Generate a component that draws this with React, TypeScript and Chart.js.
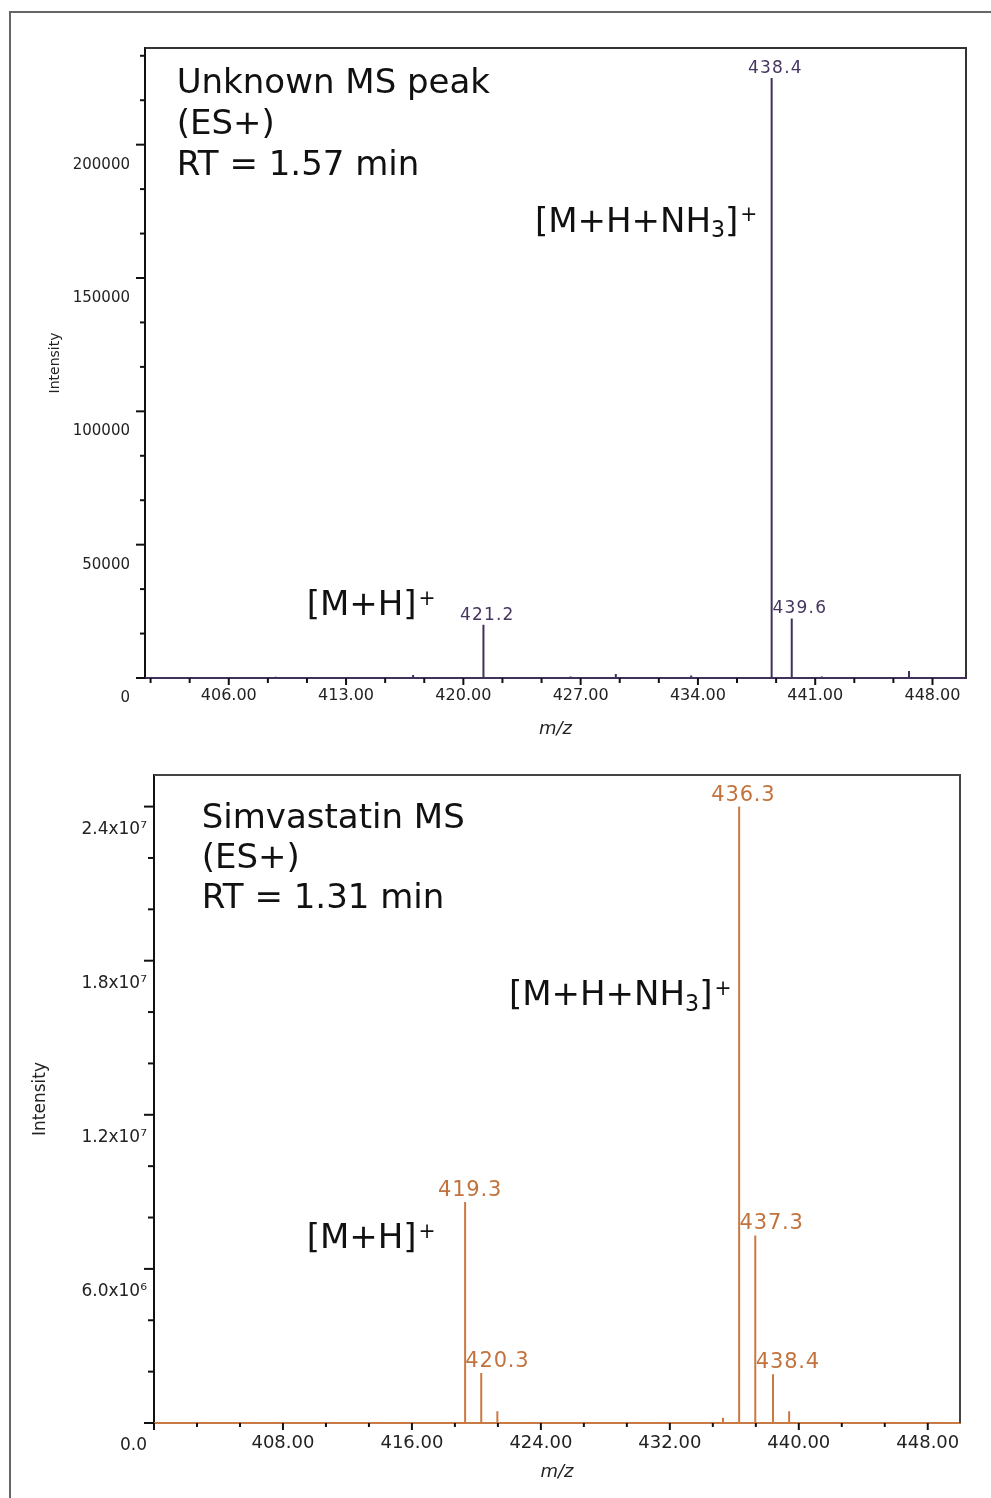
import React, { useEffect, useRef } from 'react';
import { Chart, registerables } from 'chart.js';

Chart.register(...registerables);

const FONT = '"DejaVu Sans", Verdana, sans-serif';

// ---------- Top spectrum: Unknown MS peak ----------
const topMz = [408.8, 417.0, 421.2, 426.4, 429.1, 433.6, 438.4, 439.6, 441.4, 446.6];
const topIntensity = [500, 1100, 20000, 600, 1500, 900, 225000, 22300, 600, 2600];
const topLabelText = ['421.2', '438.4', '439.6'];
const topLabelPeakMz = [421.2, 438.4, 439.6];
const topLabelCenterMz = [421.39, 438.59, 440.05];
const topXTicks = [406, 413, 420, 427, 434, 441, 448];
const topYTicks = [0, 50000, 100000, 150000, 200000];
const topYLabels = ['0', '50000', '100000', '150000', '200000'];
const topTitleLines = ['Unknown MS peak', '(ES+)', 'RT = 1.57 min'];

// ---------- Bottom spectrum: Simvastatin MS ----------
const botMz = [419.3, 420.3, 421.3, 435.3, 436.3, 437.3, 438.4, 439.4];
const botIntensity = [8.6e6, 1.95e6, 4.6e5, 2.0e5, 2.4e7, 7.3e6, 1.9e6, 4.6e5];
const botLabelText = ['419.3', '420.3', '436.3', '437.3', '438.4'];
const botLabelPeakMz = [419.3, 420.3, 436.3, 437.3, 438.4];
const botLabelCenterMz = [419.58, 421.28, 436.54, 438.29, 439.3];
const botXTicks = [408, 416, 424, 432, 440, 448];
const botYTicks = [0, 6e6, 1.2e7, 1.8e7, 2.4e7];
const botYLabels = ['0.0', '6.0x10\u2076', '1.2x10\u2077', '1.8x10\u2077', '2.4x10\u2077'];
const botTitleLines = ['Simvastatin MS', '(ES+)', 'RT = 1.31 min'];

type Seg = { t: string; sub?: boolean; sup?: boolean };
const ionAdduct: Seg[] = [{ t: '[M+H+NH' }, { t: '3', sub: true }, { t: ']' }, { t: '+', sup: true }];
const ionProton: Seg[] = [{ t: '[M+H]' }, { t: '+', sup: true }];

interface Note { segs: Seg[]; mz: number; intensity: number }

interface Spec {
  mz: number[];
  intensity: number[];
  xMin: number;
  xMax: number;
  yMax: number;
  xTicks: number[];
  xMinorStep: number;
  yTicks: number[];
  yLabels: string[];
  yMinorStep: number;
  lineColor: string;
  labelColor: string;
  labelText: string[];
  labelPeakMz: number[];
  labelCenterMz: number[];
  labelFont: number;
  labelSpacing: number;
  titleLines: string[];
  titleMz: number;
  titleIntensity: number;
  titleGap: number;
  notes: Note[];
  padding: { left: number; top: number; right: number; bottom: number };
  yAxisWidth: number;
  xAxisHeight: number;
  yTickFont: number;
  yTickPad: number;
  yLabelOffset: number;
  xTickFont: number;
  xTickPad: number;
  xTitleFont: number;
  xTitlePad: number;
  yTitleFont: number;
  yTitlePad: number;
  yMajorLen: number;
  yMinorLen: number;
  xMajorLen: number;
  xMinorLen: number;
  frameColor: string;
}

const topSpec: Spec = {
  mz: topMz,
  intensity: topIntensity,
  xMin: 401,
  xMax: 450,
  yMax: 236250,
  xTicks: topXTicks,
  xMinorStep: 7 / 3,
  yTicks: topYTicks,
  yLabels: topYLabels,
  yMinorStep: 50000 / 3,
  lineColor: '#40305a',
  labelColor: '#45355f',
  labelText: topLabelText,
  labelPeakMz: topLabelPeakMz,
  labelCenterMz: topLabelCenterMz,
  labelFont: 17,
  labelSpacing: 1.2,
  titleLines: topTitleLines,
  titleMz: 402.89,
  titleIntensity: 219300,
  titleGap: 41,
  notes: [
    { segs: ionAdduct, mz: 424.27, intensity: 167400 },
    { segs: ionProton, mz: 410.65, intensity: 23600 },
  ],
  padding: { left: 0, top: 48, right: 25, bottom: 0 },
  yAxisWidth: 145,
  xAxisHeight: 72,
  yTickFont: 15,
  yTickPad: 15,
  yLabelOffset: 20,
  xTickFont: 16,
  xTickPad: 8,
  xTitleFont: 18,
  xTitlePad: 10,
  yTitleFont: 14,
  yTitlePad: 47,
  yMajorLen: 9,
  yMinorLen: 5,
  xMajorLen: 7,
  xMinorLen: 5,
  frameColor: '#333',
};

const botSpec: Spec = {
  mz: botMz,
  intensity: botIntensity,
  xMin: 400,
  xMax: 450,
  yMax: 2.523e7,
  xTicks: botXTicks,
  xMinorStep: 8 / 3,
  yTicks: botYTicks,
  yLabels: botYLabels,
  yMinorStep: 2e6,
  lineColor: '#c97a42',
  labelColor: '#c2733d',
  labelText: botLabelText,
  labelPeakMz: botLabelPeakMz,
  labelCenterMz: botLabelCenterMz,
  labelFont: 21,
  labelSpacing: 0.8,
  titleLines: botTitleLines,
  titleMz: 402.96,
  titleIntensity: 2.316e7,
  titleGap: 40,
  notes: [
    { segs: ionAdduct, mz: 422.02, intensity: 1.627e7 },
    { segs: ionProton, mz: 409.47, intensity: 6.8e6 },
  ],
  padding: { left: 0, top: 25, right: 31, bottom: 0 },
  yAxisWidth: 154,
  xAxisHeight: 75,
  yTickFont: 17,
  yTickPad: 7,
  yLabelOffset: 23,
  xTickFont: 18,
  xTickPad: 10,
  xTitleFont: 18,
  xTitlePad: 15,
  yTitleFont: 17,
  yTitlePad: 30,
  yMajorLen: 10,
  yMinorLen: 6,
  xMajorLen: 7,
  xMinorLen: 4,
  frameColor: '#444',
};

function drawRich(ctx: CanvasRenderingContext2D, segs: Seg[], x: number, baseline: number, size: number) {
  let cx = x;
  for (const s of segs) {
    let fs = size;
    let dy = 0;
    if (s.sub) { fs = size * 0.65; dy = size * 0.17; }
    if (s.sup) { fs = size * 0.6; dy = -size * 0.3; cx += 2; }
    ctx.font = `${fs}px ${FONT}`;
    ctx.fillText(s.t, cx, baseline + dy);
    cx += ctx.measureText(s.t).width;
  }
}

function makeDecor(s: Spec) {
  return {
    id: 'msDecor',
    afterDraw(chart: any) {
      const ctx: CanvasRenderingContext2D = chart.ctx;
      const xs = chart.scales.x;
      const ys = chart.scales.y;
      const area = chart.chartArea;
      ctx.save();

      // top and right frame of the plot
      ctx.strokeStyle = s.frameColor;
      ctx.lineWidth = 2;
      ctx.beginPath();
      ctx.moveTo(area.left, area.top);
      ctx.lineTo(area.right, area.top);
      ctx.lineTo(area.right, area.bottom);
      ctx.stroke();

      // tick marks
      ctx.strokeStyle = '#111';
      ctx.lineWidth = 2;
      const isMajor = (v: number, arr: number[]) => arr.some((m) => Math.abs(m - v) < 1e-6 * Math.max(1, Math.abs(m)));
      let start = s.xTicks[0];
      while (start - s.xMinorStep >= s.xMin - 1e-9) start -= s.xMinorStep;
      for (let v = start; v <= s.xMax + 1e-9; v += s.xMinorStep) {
        const major = isMajor(v, s.xTicks) || Math.abs(v - s.xMin) < 1e-6;
        const px = xs.getPixelForValue(v);
        ctx.beginPath();
        ctx.moveTo(px, area.bottom);
        ctx.lineTo(px, area.bottom + (major ? s.xMajorLen : s.xMinorLen));
        ctx.stroke();
      }
      for (let v = 0; v <= s.yMax + 1e-9; v += s.yMinorStep) {
        const major = isMajor(v, s.yTicks);
        const py = ys.getPixelForValue(v);
        ctx.beginPath();
        ctx.moveTo(area.left - (major ? s.yMajorLen : s.yMinorLen), py);
        ctx.lineTo(area.left, py);
        ctx.stroke();
      }

      // peak labels
      ctx.fillStyle = s.labelColor;
      ctx.font = `${s.labelFont}px ${FONT}`;
      (ctx as any).letterSpacing = `${s.labelSpacing}px`;
      ctx.textAlign = 'center';
      ctx.textBaseline = 'bottom';
      s.labelText.forEach((txt, i) => {
        const idx = s.mz.indexOf(s.labelPeakMz[i]);
        const h = s.intensity[idx];
        const px = xs.getPixelForValue(s.labelCenterMz[i]) + s.labelSpacing / 2;
        const py = ys.getPixelForValue(h) - 1;
        ctx.fillText(txt, px, py);
      });
      (ctx as any).letterSpacing = '0px';

      // annotations
      ctx.fillStyle = '#111';
      ctx.textAlign = 'left';
      ctx.textBaseline = 'alphabetic';
      ctx.font = `34px ${FONT}`;
      const tx = xs.getPixelForValue(s.titleMz);
      const ty = ys.getPixelForValue(s.titleIntensity);
      s.titleLines.forEach((line, i) => {
        ctx.fillText(line, tx, ty + i * s.titleGap);
      });
      s.notes.forEach((n) => {
        drawRich(ctx, n.segs, xs.getPixelForValue(n.mz), ys.getPixelForValue(n.intensity), 34);
      });
      ctx.restore();
    },
  };
}

function buildConfig(s: Spec): any {
  const points: { x: number; y: number }[] = [{ x: s.xMin, y: 0 }];
  s.mz.forEach((m, i) => {
    points.push({ x: m, y: 0 }, { x: m, y: s.intensity[i] }, { x: m, y: 0 });
  });
  points.push({ x: s.xMax, y: 0 });

  return {
    type: 'line',
    data: {
      datasets: [
        {
          data: points,
          borderColor: s.lineColor,
          borderWidth: 2,
          pointRadius: 0,
          tension: 0,
          fill: false,
        },
      ],
    },
    options: {
      animation: false,
      responsive: true,
      maintainAspectRatio: false,
      events: [],
      layout: { padding: s.padding },
      plugins: { legend: { display: false }, tooltip: { enabled: false } },
      scales: {
        x: {
          type: 'linear',
          min: s.xMin,
          max: s.xMax,
          afterFit: (sc: any) => { sc.height = s.xAxisHeight; },
          afterBuildTicks: (sc: any) => { sc.ticks = s.xTicks.map((v) => ({ value: v })); },
          grid: { display: false, drawTicks: false },
          border: { display: true, color: s.lineColor, width: 2 },
          ticks: {
            autoSkip: false,
            maxRotation: 0,
            minRotation: 0,
            padding: s.xTickPad,
            color: '#222',
            font: { family: FONT, size: s.xTickFont },
            callback: (v: any) => Number(v).toFixed(2),
          },
          title: {
            display: true,
            text: 'm/z',
            color: '#222',
            font: { family: FONT, size: s.xTitleFont, style: 'italic' },
            padding: { top: 0, bottom: s.xTitlePad },
          },
        },
        y: {
          type: 'linear',
          min: 0,
          max: s.yMax,
          afterFit: (sc: any) => { sc.width = s.yAxisWidth; },
          afterBuildTicks: (sc: any) => { sc.ticks = s.yTicks.map((v) => ({ value: v })); },
          grid: { display: false, drawTicks: false },
          border: { display: true, color: '#111', width: 2 },
          ticks: {
            autoSkip: false,
            padding: s.yTickPad,
            labelOffset: s.yLabelOffset,
            color: '#222',
            font: { family: FONT, size: s.yTickFont },
            callback: (_v: any, i: number) => s.yLabels[i],
          },
          title: {
            display: true,
            text: 'Intensity',
            color: '#222',
            font: { family: FONT, size: s.yTitleFont },
            padding: { top: s.yTitlePad, bottom: 0 },
          },
        },
      },
    },
    plugins: [makeDecor(s)],
  };
}

function Spectrum({ spec, top, height }: { spec: Spec; top: number; height: number }) {
  const ref = useRef<HTMLCanvasElement>(null);
  useEffect(() => {
    if (!ref.current) return;
    const chart = new Chart(ref.current, buildConfig(spec));
    return () => chart.destroy();
  }, [spec]);
  return (
    <div style={{ position: 'absolute', left: 0, top, width: 991, height }}>
      <canvas ref={ref} />
    </div>
  );
}

export default function App() {
  return (
    <div style={{ position: 'absolute', left: 0, top: 0, width: 991, height: 1498, background: '#fff', overflow: 'hidden' }}>
      <div
        style={{
          position: 'absolute',
          left: 9,
          top: 11,
          width: 982,
          height: 1487,
          boxSizing: 'border-box',
          borderLeft: '2px solid #666',
          borderTop: '2px solid #666',
        }}
      />
      <Spectrum spec={topSpec} top={0} height={750} />
      <Spectrum spec={botSpec} top={750} height={748} />
    </div>
  );
}
